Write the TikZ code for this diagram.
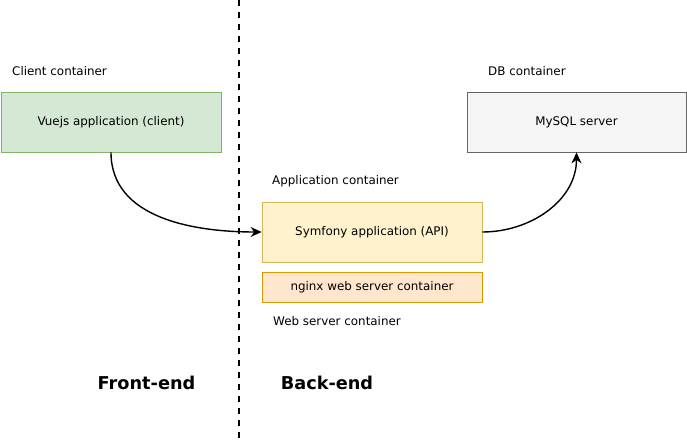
\documentclass[tikz,border=0pt]{standalone}
\usepackage{fontspec}
\setmainfont{DejaVu Sans}
\usetikzlibrary{shapes,arrows.meta}

\definecolor{vuefill}{HTML}{D5E8D4}
\definecolor{vueline}{HTML}{82B366}
\definecolor{sqlfill}{HTML}{F5F5F5}
\definecolor{sqlline}{HTML}{666666}
\definecolor{apifill}{HTML}{FFF2CC}
\definecolor{apiline}{HTML}{D6B656}
\definecolor{webfill}{HTML}{FFE6CC}
\definecolor{webline}{HTML}{D79B00}

\begin{document}
\begin{tikzpicture}[x=1pt,y=-1pt,
                    every node/.style={font=\fontsize{11.9}{14}\selectfont},
                    box/.style={draw,line width=0.8pt,minimum width=220pt,minimum height=60pt,inner sep=0pt},
                    lbl/.style={anchor=west,inner sep=0pt},
                    side/.style={inner sep=0pt,font=\fontsize{17.7}{20}\selectfont\bfseries},
                    req/.style={-{Stealth[length=11pt,width=10pt,inset=3.5pt]},line width=1.4pt}]
  \useasboundingbox (0,0) rectangle (687,443);
  % divider
  \coordinate      (top) at (239,0);
  \coordinate      (bot) at (239,443);
  \draw[line width=1.6pt,dash pattern=on 6pt off 6pt] (top) -- (bot);
  % containers
  \node[lbl]       (clientlbl) at (12,71.5)  {Client container};
  \node[box,fill=vuefill,draw=vueline] (vue) at (111,122) {Vuejs application (client)};
  \node[lbl]       (dblbl) at (488,71.5)  {DB container};
  \node[box,fill=sqlfill,draw=sqlline,minimum width=219pt] (sql) at (576.5,122) {MySQL server};
  \node[lbl]       (applbl) at (272,181.5) {Application container};
  \node[box,fill=apifill,draw=apiline] (api) at (372,232) {Symfony application (API)};
  \node[box,fill=webfill,draw=webline,minimum height=30pt] (web) at (372,287) {nginx web server container};
  \node[lbl]       (weblbl) at (273,321.5) {Web server container};
  % sides
  \node[side]      (front) at (146.5,382.5) {Front-end};
  \node[side]      (back) at (327,382.5) {Back-end};
  % requests
  \draw[req] (vue.south) to[out=-90,in=180] (api.west);
  \draw[req] (api.east) to[out=0,in=-90] (sql.south);
\end{tikzpicture}
\end{document}
